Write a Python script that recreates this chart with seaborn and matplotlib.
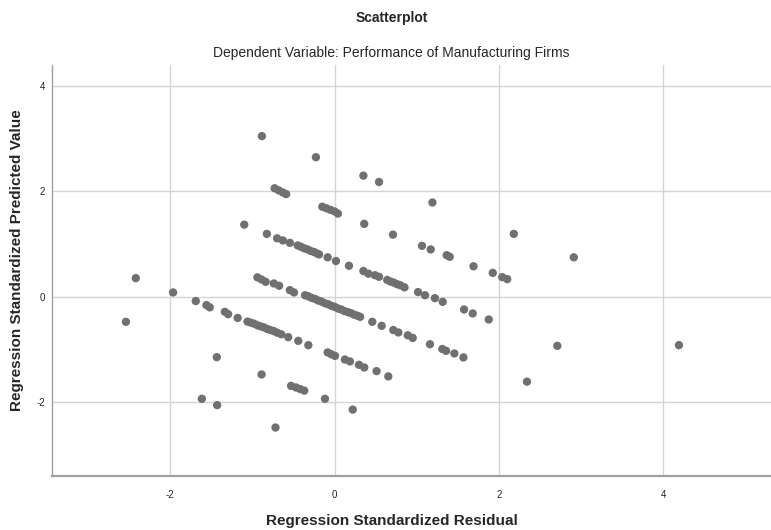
import pandas as pd
import matplotlib.pyplot as plt
import seaborn as sns

# standardized residuals (x) and standardized predicted values (y)
residual = [
    -0.885, -0.228, 0.35, 0.54, -1.10, -2.42, 0.36, 1.19, 0.71, 2.18, 2.91,
    1.063, 1.169, 1.364, 1.40, 1.69, 1.924, 2.04, 2.10,
    -0.73, -0.68, -0.63, -0.59,
    -0.15, -0.10, -0.05, 0.0, 0.04,
    -0.825, -0.70, -0.63, -0.545,
    -0.45, -0.41, -0.37, -0.33, -0.29, -0.25, -0.21, -0.19,
    -0.085, 0.016, 0.174, 0.35, 0.41, 0.49, 0.54,
    0.64, 0.68, 0.72, 0.76, 0.80, 0.85,
    1.015, 1.10, 1.22, 1.315, 1.575, 1.68, 1.875,
    -0.94, -0.89, -0.84, -0.74, -0.675, -0.545, -0.495,
    -0.36, -0.32, -0.28, -0.24, -0.20, -0.16, -0.12, -0.08, -0.04, 0.00,
    0.04, 0.08, 0.12, 0.16, 0.20, 0.24, 0.28, 0.31,
    0.458, 0.572, 0.714, 0.775, 0.89, 0.95, 1.16, 1.31, 1.356, 1.457, 1.567,
    -1.966, -1.69, -1.56, -1.52, -1.336, -1.296, -1.18,
    -1.06, -1.02, -0.98, -0.94, -0.90, -0.86, -0.82, -0.78, -0.74, -0.70, -0.65,
    -0.565, -0.443, -0.32,
    -0.085, -0.04, 0.004, 0.125, 0.186, 0.296, 0.36, 0.51, 0.653,
    -2.54, -1.434, -0.889, -0.53, -0.47, -0.42, -0.37, -0.118,
    -1.616, -1.43, -0.72, 0.22, 2.71, 4.19, 2.34,
]
predicted = [
    3.05, 2.65, 2.30, 2.18, 1.37, 0.355, 1.385, 1.79, 1.18, 1.195, 0.75,
    0.968, 0.90, 0.79, 0.76, 0.58, 0.455, 0.374, 0.336,
    2.06, 2.02, 1.98, 1.95,
    1.71, 1.68, 1.65, 1.62, 1.58,
    1.195, 1.11, 1.07, 1.025,
    0.975, 0.95, 0.92, 0.90, 0.87, 0.85, 0.82, 0.805,
    0.75, 0.68, 0.59, 0.49, 0.44, 0.41, 0.38,
    0.32, 0.29, 0.27, 0.24, 0.22, 0.18,
    0.09, 0.03, -0.025, -0.095, -0.24, -0.315, -0.43,
    0.37, 0.33, 0.285, 0.254, 0.21, 0.127, 0.083,
    0.03, 0.01, -0.02, -0.04, -0.07, -0.09, -0.12, -0.14, -0.17, -0.19,
    -0.22, -0.24, -0.27, -0.29, -0.31, -0.34, -0.36, -0.38,
    -0.474, -0.55, -0.63, -0.676, -0.73, -0.78, -0.90, -0.99, -1.025, -1.075, -1.15,
    0.083, -0.08, -0.157, -0.20, -0.285, -0.33, -0.40,
    -0.47, -0.49, -0.51, -0.54, -0.56, -0.58, -0.61, -0.63, -0.65, -0.68, -0.71,
    -0.765, -0.835, -0.917,
    -1.055, -1.09, -1.12, -1.19, -1.226, -1.29, -1.34, -1.41, -1.51,
    -0.474, -1.145, -1.473, -1.69, -1.72, -1.75, -1.78, -1.935,
    -1.935, -2.055, -2.48, -2.14, -0.93, -0.917, -1.61,
]
x_ticks = [-2, 0, 2, 4]
y_ticks = [-2, 0, 2, 4]

df = pd.DataFrame({'residual': residual, 'predicted': predicted})

sns.set_style('white')
plt.rcParams['font.family'] = ['Liberation Sans', 'DejaVu Sans']

fig = plt.figure(figsize=(7.71, 5.30), dpi=100)
ax = fig.add_axes([0.0674, 0.1019, 0.9326, 0.7755])

sns.scatterplot(data=df, x='residual', y='predicted', ax=ax,
                color='#707070', s=36, edgecolor='none', zorder=3)

ax.set_xlim(-3.44, 5.31)
ax.set_ylim(-3.40, 4.40)
ax.set_xticks(x_ticks)
ax.set_yticks(y_ticks)
ax.set_xticklabels([str(t) for t in x_ticks])
ax.set_yticklabels([str(t) for t in y_ticks])
ax.grid(True, color='#d4d4d4', linewidth=1.0, zorder=0)
ax.set_axisbelow(True)
ax.tick_params(axis='x', length=0, labelsize=7, colors='#222222', pad=10)
ax.tick_params(axis='y', length=0, labelsize=7, colors='#222222', pad=5)

for side in ['top', 'right']:
    ax.spines[side].set_visible(False)
ax.spines['left'].set_color('#a0a0a0')
ax.spines['left'].set_linewidth(1.0)
ax.spines['bottom'].set_color('#a0a0a0')
ax.spines['bottom'].set_linewidth(1.6)

ax.set_xlabel('')
ax.set_ylabel('')
fig.text(0.508, 0.017, 'Regression Standardized Residual', ha='center', va='center',
         fontsize=11, fontweight='bold')
fig.text(0.022, 0.51, 'Regression Standardized Predicted Value', ha='center', va='center',
         rotation=90, fontsize=11, fontweight='bold')

fig.text(0.508, 0.966, 'Scatterplot', ha='center', va='center', fontsize=10, fontweight='bold')
fig.text(0.508, 0.900, 'Dependent Variable: Performance of Manufacturing Firms',
         ha='center', va='center', fontsize=10)

plt.savefig('out.png', dpi=100)
